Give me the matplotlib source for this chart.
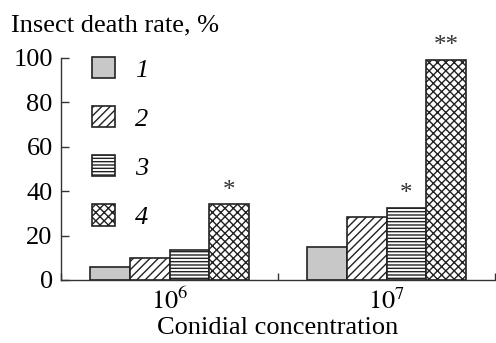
import numpy as np
from matplotlib import pyplot as plt
from matplotlib.patches import Patch

plt.rcParams['font.family'] = ['Liberation Serif', 'DejaVu Serif']
plt.rcParams['mathtext.fontset'] = 'stix'
plt.rcParams['hatch.linewidth'] = 1.0

# data
groups = ['$10^6$', '$10^7$']
series_names = ['1', '2', '3', '4']
rate_1 = [6, 15]
rate_2 = [10, 28.5]
rate_3 = [13.5, 32.5]
rate_4 = [34, 99]
marks = [['', '', '', '*'], ['', '', '*', '**']]

values = [rate_1, rate_2, rate_3, rate_4]
fills = ['#c8c8c8', 'white', 'white', 'white']
hatches = [None, '////', '-----', 'xxxx']

fig = plt.figure(figsize=(4.96, 3.43), dpi=100)
ax = fig.add_axes([0.123, 0.184, 0.875, 0.647])

width = 0.184
centers = np.arange(len(groups)) + 0.5
handles = []
for i, vals in enumerate(values):
    xs = centers + (i - 1.5) * width
    ax.bar(xs, vals, width=width, color=fills[i], hatch=hatches[i],
           edgecolor='#222222', linewidth=1.2)
    handles.append(Patch(facecolor=fills[i], hatch=hatches[i],
                         edgecolor='#222222', linewidth=1.2, label=series_names[i]))
    for g, v in enumerate(vals):
        if marks[g][i]:
            ax.annotate(marks[g][i], (xs[g], v), xytext=(0, 2), textcoords='offset points',
                        ha='center', va='bottom', fontsize=18, color='#333333',
                        annotation_clip=False)

ax.set_xlim(0, 2)
ax.set_ylim(0, 100)
ax.set_yticks([0, 20, 40, 60, 80, 100])
ax.set_xticks(centers)
ax.set_xticklabels(groups)
ax.set_xticks([0, 1, 2], minor=True)
ax.tick_params(axis='x', which='major', length=0, pad=6, labelsize=19)
ax.tick_params(axis='x', which='minor', direction='in', length=5, width=1, color='#333333')
ax.tick_params(axis='y', direction='in', length=6, width=1, color='#333333', labelsize=19, pad=6)
for s in ['top', 'right']:
    ax.spines[s].set_visible(False)
for s in ['left', 'bottom']:
    ax.spines[s].set_color('#333333')
    ax.spines[s].set_linewidth(1.0)

ax.set_xlabel('Conidial concentration', fontsize=19, labelpad=2)
fig.text(0.022, 0.958, 'Insect death rate, %', fontsize=19, ha='left', va='top')

ax.legend(handles=handles, loc='upper left', bbox_to_anchor=(0.071, 1.005),
          frameon=False, borderaxespad=0, borderpad=0,
          handlelength=0.87, handleheight=0.87, labelspacing=0.92, handletextpad=0.75,
          prop={'style': 'italic', 'size': 19})

plt.savefig('out.png', dpi=100)
